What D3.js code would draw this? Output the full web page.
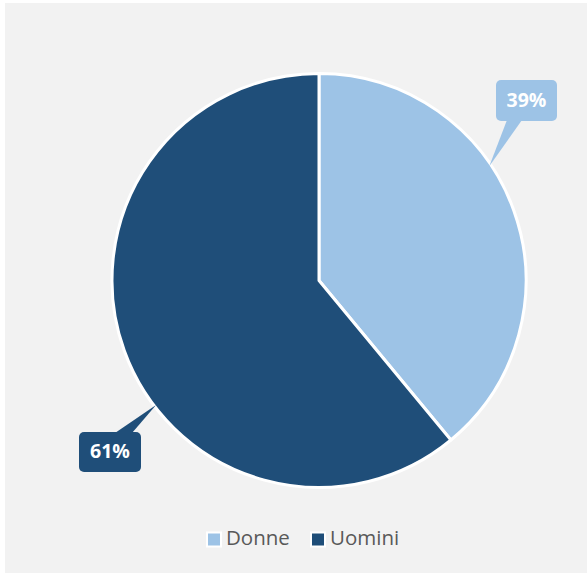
<!DOCTYPE html>
<html>
<head>
<meta charset="utf-8">
<script src="https://cdn.jsdelivr.net/npm/d3@7/dist/d3.min.js"></script>
<style>
  html, body { margin: 0; padding: 0; background: #ffffff; }
  svg { display: block; }
  text { font-family: "Open Sans", "Noto Sans", sans-serif; }
</style>
</head>
<body>
<svg id="chart" width="587" height="573"></svg>
<script>
// Gender split
const categories = ["Donne", "Uomini"];
const values = [39, 61];
const labels = ["39%", "61%"];
const colors = ["#9dc3e6", "#1f4e79"];

const svg = d3.select("#chart");
const W = 587, H = 573;

// chart area background
svg.append("rect")
  .attr("x", 5).attr("y", 3)
  .attr("width", W - 5).attr("height", H - 3)
  .attr("fill", "#f2f2f2");

const cx = 319, cy = 280.5, r = 207;

const pie = d3.pie().sort(null).value(d => d.v);
const data = pie(categories.map((c, i) => ({ c, v: values[i], label: labels[i], color: colors[i] })));
const arc = d3.arc().innerRadius(0).outerRadius(r);

const g = svg.append("g").attr("transform", `translate(${cx},${cy})`);
g.selectAll("path.slice")
  .data(data)
  .join("path")
  .attr("class", "slice")
  .attr("d", arc)
  .attr("fill", d => d.data.color)
  .attr("stroke", "#ffffff")
  .attr("stroke-width", 3)
  .attr("stroke-linejoin", "round");

// callout boxes: box placement and where the pointer meets the slice edge
const callouts = [
  { box: { x: 496, y: 80, w: 61, h: 41 }, tipFrac: 0.40, base: [507, 522], side: "bottom" },
  { box: { x: 79, y: 432, w: 62, h: 40 }, tipFrac: 0.42, base: [115, 132], side: "top" }
];

data.forEach((d, i) => {
  const c = callouts[i];
  const a = d.startAngle + (d.endAngle - d.startAngle) * c.tipFrac;
  const tipR = r - 2;
  const tx = cx + tipR * Math.sin(a);
  const ty = cy - tipR * Math.cos(a);
  const b = c.box;
  const by = c.side === "bottom" ? b.y + b.h - 1 : b.y + 1;
  svg.append("path")
    .attr("d", `M${c.base[0]},${by} L${tx},${ty} L${c.base[1]},${by} Z`)
    .attr("fill", d.data.color);
  svg.append("rect")
    .attr("x", b.x).attr("y", b.y)
    .attr("width", b.w).attr("height", b.h)
    .attr("rx", 5).attr("ry", 5)
    .attr("fill", d.data.color);
  svg.append("text")
    .attr("x", b.x + b.w / 2)
    .attr("y", b.y + b.h / 2 + 1)
    .attr("text-anchor", "middle")
    .attr("dominant-baseline", "middle")
    .attr("fill", "#ffffff")
    .attr("font-size", 19.5)
    .attr("font-weight", "bold")
    .text(d.data.label);
});

// legend
const legendItems = [
  { x: 207, text: categories[0], color: colors[0] },
  { x: 311, text: categories[1], color: colors[1] }
];
const ly = 539.5;
legendItems.forEach(it => {
  svg.append("rect")
    .attr("x", it.x).attr("y", ly - 7)
    .attr("width", 14).attr("height", 14)
    .attr("fill", it.color)
    .attr("stroke", "#ffffff")
    .attr("stroke-width", 2);
  svg.append("text")
    .attr("x", it.x + 19)
    .attr("y", ly)
    .attr("dominant-baseline", "middle")
    .attr("fill", "#595959")
    .attr("font-size", 20.5)
    .text(it.text);
});
</script>
</body>
</html>
